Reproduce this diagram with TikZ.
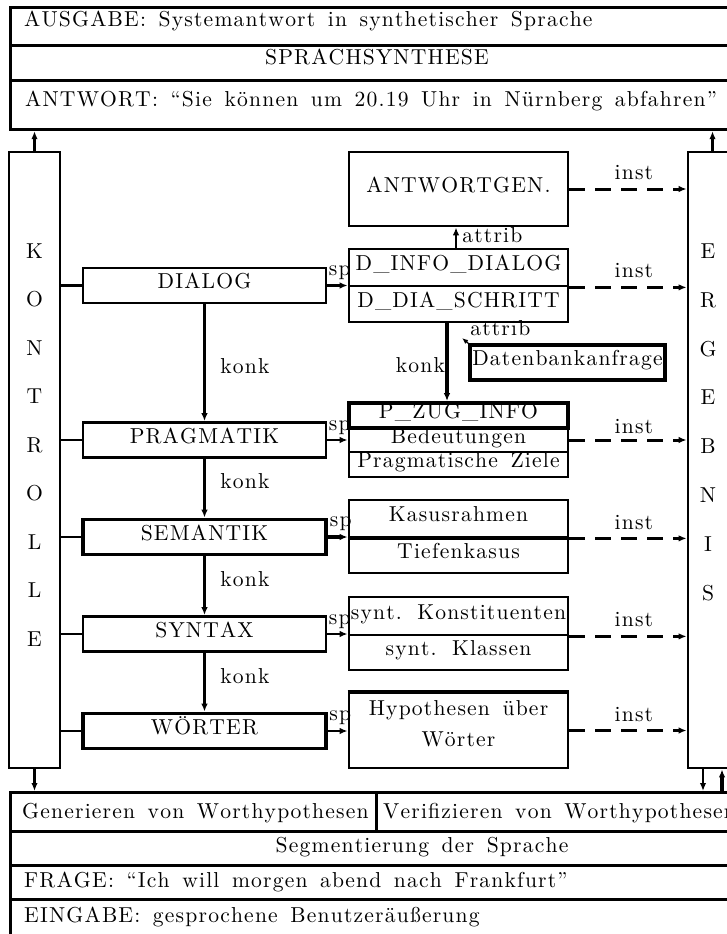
\documentclass[tikz,border=0pt]{standalone}
\usepackage{fontspec}
\setmainfont{lmroman10-regular.otf}[LetterSpace=5.5,Kerning=Off,WordSpace=1.5]
\usetikzlibrary{arrows.meta,calc}
\begin{document}
\begin{tikzpicture}[x=1pt,y=-1pt,
  lbl/.style={inner sep=0pt, text height=0.683em, text depth=0pt, font=\fontsize{21.6}{26}\selectfont},
  bx/.style={draw, line width=2.8pt, inner sep=0pt, text height=0.683em, text depth=0pt, font=\fontsize{21.6}{26}\selectfont},
  rowbox/.style={draw, line width=3.2pt, inner sep=0pt, anchor=north west},
  thk/.style={line width=3.8pt},
  conn/.style={line width=2.8pt},
  arr/.style={line width=2.8pt, -{Latex[length=8pt,width=6.5pt]}},
  dsh/.style={line width=3pt, dash pattern=on 16pt off 10pt, -{Latex[length=8pt,width=6.5pt]}},
]
\useasboundingbox (0,0) rectangle (727,934);

% top block
\node[rowbox, minimum width=736pt, minimum height=38pt] (rowA) at (9,6) {};
\node[rowbox, minimum width=736pt, minimum height=35pt] (rowS) at (9,44) {};
\node[rowbox, minimum width=736pt, minimum height=49pt] (rowT) at (9,79) {};
\node[lbl, anchor=west] (tA) at (24,23.5) {AUSGABE: Systemantwort in synthetischer Sprache};
\node[lbl] (tS) at (377,61.5) {SPRACHSYNTHESE};
\node[lbl, anchor=west] (tT) at (25,103.5) {ANTWORT: “Sie können um 20.19 Uhr in Nürnberg abfahren”};

% bottom block
\node[rowbox, minimum width=366pt, minimum height=39pt] (gen) at (9,791) {};
\node[rowbox, minimum width=470pt, minimum height=39pt] (ver) at (375,791) {};
\node[rowbox, minimum width=834pt, minimum height=34pt] (seg) at (9,830) {};
\node[rowbox, minimum width=834pt, minimum height=34pt] (frage) at (9,864) {};
\node[rowbox, minimum width=834pt, minimum height=45pt] (eing) at (9,898) {};
\node[lbl, anchor=west] (tgen) at (22,815.5) {Generieren von Worthypothesen};
\node[lbl, anchor=west] (tver) at (383,815.5) {Verifizieren von Worthypothesen};
\node[lbl] (tseg) at (422,849) {Segmentierung der Sprache};
\node[lbl, anchor=west] (tfrage) at (24,884) {FRAGE: “Ich will morgen abend nach Frankfurt”};
\node[lbl, anchor=west] (teing) at (24,919) {EINGABE: gesprochene Benutzeräußerung};

% side columns
\node[bx, minimum width=51pt, minimum height=616pt] (kon) at (34.5,460) {};
\foreach \l [count=\i from 0] in {K,O,N,T,R,O,L,L,E}
  \node[lbl] (k\i) at (34.5,{255+48.5*\i}) {\l};
\node[bx, minimum width=49pt, minimum height=616pt] (erg) at (712.5,460) {};
\foreach \l [count=\i from 0] in {E,R,G,E,B,N,I,S}
  \node[lbl] (e\i) at (708,{255+48.85*\i}) {\l};

% left column
\node[bx, minimum width=243pt, minimum height=35pt] (dia) at (204.5,285.5) {DIALOG};
\node[bx, minimum width=243pt, minimum height=35pt] (prag) at (204.5,440) {PRAGMATIK};
\node[bx, thk, minimum width=243pt, minimum height=35pt] (sem) at (204.5,537) {SEMANTIK};
\node[bx, minimum width=243pt, minimum height=35pt] (syn) at (204.5,634) {SYNTAX};
\node[bx, thk, minimum width=243pt, minimum height=35pt] (wor) at (204.5,731) {WÖRTER};

% middle column
\node[bx, minimum width=219pt, minimum height=74pt] (antwg) at (458.5,189) {ANTWORTGEN.};
\node[bx, minimum width=219pt, minimum height=37pt] (dinfo) at (458.5,267.5) {D\_INFO\_DIALOG};
\node[bx, minimum width=219pt, minimum height=36pt] (ddia) at (458.5,304) {D\_DIA\_SCHRITT};
\node[bx, thk, minimum width=195pt, minimum height=35pt] (dbank) at (567.5,362.5) {Datenbankanfrage};
\node[bx, thk, minimum width=219pt, minimum height=25pt] (pzug) at (458.5,415.5) {P\_ZUG\_INFO};
\node[bx, minimum width=219pt, minimum height=24pt] (bed) at (458.5,440) {Bedeutungen};
\node[bx, minimum width=219pt, minimum height=25pt] (prz) at (458.5,464.5) {Pragmatische Ziele};
\node[bx, minimum width=219pt, minimum height=37pt] (kas) at (458.5,518.5) {Kasusrahmen};
\node[bx, minimum width=219pt, minimum height=36pt] (tief) at (458.5,555) {Tiefenkasus};
\node[bx, minimum width=219pt, minimum height=38pt] (synk) at (458.5,616) {synt. Konstituenten};
\node[bx, minimum width=219pt, minimum height=35pt] (synkl) at (458.5,652.5) {synt. Klassen};
\node[bx, minimum width=219pt, minimum height=75pt] (hypo) at (458.5,730.5) {};
\draw[thk] (hypo.north west) -- (hypo.north east);
\node[lbl] (hypo1) at (458.5,712) {Hypothesen über};
\node[lbl] (hypo2) at (458.5,743) {Wörter};

% KONTROLLE links
\foreach \b in {dia,prag,sem,syn,wor}
  \draw[conn] (kon.east |- \b.west) -- (\b.west);

% konk arrows
\draw[arr, thk] (dia) -- (prag) node[lbl, pos=0.56, anchor=west, xshift=14pt] {konk};
\draw[arr, thk] (prag) -- (sem) node[lbl, pos=0.45, anchor=west, xshift=14pt] {konk};
\draw[arr, thk] (sem) -- (syn) node[lbl, pos=0.45, anchor=west, xshift=14pt] {konk};
\draw[arr, thk] (syn) -- (wor) node[lbl, pos=0.47, anchor=west, xshift=14pt] {konk};

% sp arrows
\draw[arr] (dia.east) -- (dia.east -| dinfo.west) node[lbl, pos=0, anchor=south west, yshift=9pt] {sp};
\draw[arr] (prag.east) -- (prag.east -| bed.west) node[lbl, pos=0, anchor=south west, yshift=8pt] {sp};
\draw[arr, thk] (sem.east) -- (sem.east -| kas.west) node[lbl, pos=0, anchor=south west, yshift=9pt] {sp};
\draw[thk] (kas.south west) -- (kas.south east);
\draw[arr] (syn.east) -- (syn.east -| synk.west) node[lbl, pos=0, anchor=south west, yshift=8pt] {sp};
\draw[arr] (wor.east) -- (wor.east -| hypo.west) node[lbl, pos=0, anchor=south west, yshift=9pt] {sp};

% inst arrows
\draw[dsh] (antwg.east) -- (antwg.east -| erg.west) node[lbl, pos=0.55, anchor=south, yshift=8pt] {inst};
\draw[dsh] (dinfo.south east) -- (dinfo.south east -| erg.west) node[lbl, pos=0.55, anchor=south, yshift=8pt] {inst};
\draw[dsh] (bed.east) -- (bed.east -| erg.west) node[lbl, pos=0.55, anchor=south, yshift=5pt] {inst};
\draw[dsh] (kas.south east) -- (kas.south east -| erg.west) node[lbl, pos=0.55, anchor=south, yshift=7pt] {inst};
\draw[dsh] (synk.south east) -- (synk.south east -| erg.west) node[lbl, pos=0.55, anchor=south, yshift=8pt] {inst};
\draw[dsh] (hypo.east) -- (hypo.east -| erg.west) node[lbl, pos=0.55, anchor=south, yshift=8pt] {inst};

% attrib and konk in middle column
\draw[arr] ($(dinfo.north)+(-2.5,0)$) -- ($(antwg.south)+(-2.5,0)$) node[lbl, pos=0.43, anchor=west, xshift=5pt] {attrib};
\draw[arr, thk] ($(ddia.south)+(-11.5,0)$) -- ($(pzug.north)+(-11.5,0)$) node[lbl, pos=0.59, anchor=east] {konk};
\draw[line width=1.4pt, -{Latex[length=6pt,width=5pt]}] (dbank.north west) -- ++(-6,-5);
\node[lbl, anchor=west] (attr2) at ($(dbank.north west)+(2,-11)$) {attrib};

% vertical links to top and bottom blocks
\draw[arr] (kon.north) -- (kon.north |- rowT.south);
\draw[arr] (erg.north) -- (erg.north |- rowT.south);
\draw[arr] (kon.south) -- (kon.south |- gen.north);
\coordinate (ed) at ($(erg.south)+(-9.5,0)$);
\coordinate (eu) at ($(erg.south)+(9.5,0)$);
\draw[arr] (ed) -- (ed |- ver.north);
\draw[arr, thk] (eu |- ver.north) -- (eu);
\end{tikzpicture}
\end{document}
